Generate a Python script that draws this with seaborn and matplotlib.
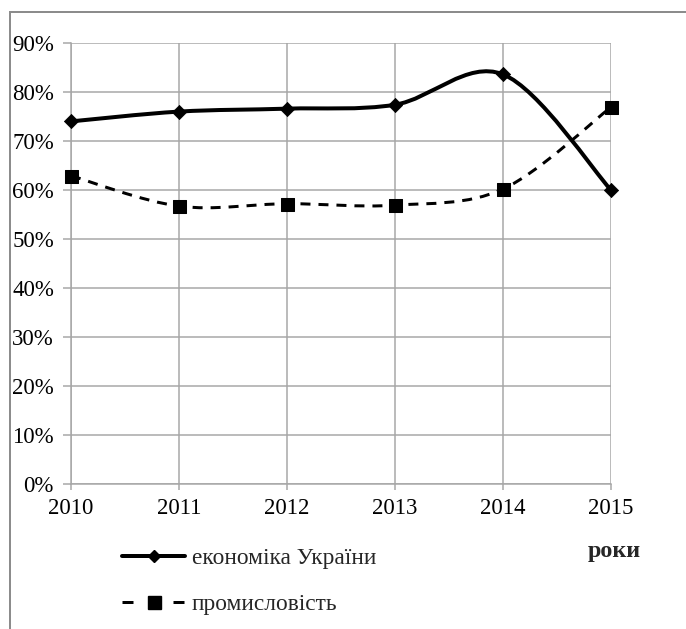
import numpy as np
import pandas as pd
import matplotlib
matplotlib.use("Agg")
import matplotlib.pyplot as plt
from matplotlib.path import Path
from matplotlib.patches import PathPatch, Rectangle
from matplotlib.lines import Line2D
import seaborn as sns

years = [2010, 2011, 2012, 2013, 2014, 2015]
economy = [74.0, 76.0, 76.6, 77.4, 83.6, 60.0]
industry = [62.9, 56.7, 57.2, 56.9, 60.2, 76.9]
series_names = ["економіка України", "промисловість"]
y_ticks = [0, 10, 20, 30, 40, 50, 60, 70, 80, 90]
x_label = "роки"

sns.set_theme(style="white")
plt.rcParams["font.family"] = ["Liberation Serif", "DejaVu Serif"]
plt.rcParams["lines.scale_dashes"] = False

DPI = 100
fig = plt.figure(figsize=(6.86, 6.29), dpi=DPI)
px = 72.0 / DPI  # points per pixel
FS = 16.5

# chart frame (Excel chart border, cropped on right/bottom)
fig.patches.append(Rectangle((10 / 686, -0.1), 1.2, 1 - 12 / 629 + 0.1,
                             transform=fig.transFigure, fill=False,
                             edgecolor="#8c8c8c", linewidth=2 * px))

ax = fig.add_axes([71 / 686, 1 - 484 / 629, (611 - 71) / 686, (484 - 43) / 629])

df = pd.DataFrame({"year": years * 2,
                   "value": economy + industry,
                   "series": [series_names[0]] * 6 + [series_names[1]] * 6})


def smooth_path(xs, ys):
    pts = np.column_stack([xs, ys]).astype(float)
    n = len(pts)
    verts = [pts[0]]
    codes = [Path.MOVETO]
    for i in range(n - 1):
        p0 = pts[i - 1] if i > 0 else pts[i]
        p1 = pts[i]
        p2 = pts[i + 1]
        p3 = pts[i + 2] if i + 2 < n else pts[i + 1]
        c1 = p1 + (p2 - p0) / 6.0
        c2 = p2 - (p3 - p1) / 6.0
        verts += [c1, c2, p2]
        codes += [Path.CURVE4] * 3
    return Path(verts, codes)


ax.add_patch(PathPatch(smooth_path(years, economy), fill=False, edgecolor="black",
                       linewidth=4 * px, zorder=3, capstyle="butt", clip_on=False))
ax.add_patch(PathPatch(smooth_path(years, industry), fill=False, edgecolor="black",
                       linewidth=3 * px, linestyle=(0, (10 * px, 8 * px)), zorder=3,
                       clip_on=False))

sns.scatterplot(data=df[df.series == series_names[0]], x="year", y="value", marker="D",
                s=(10 * px) ** 2, color="black", edgecolor="black", ax=ax, zorder=4,
                legend=False, clip_on=False)
sns.scatterplot(data=df[df.series == series_names[1]], x="year", y="value", marker="s",
                s=(13 * px) ** 2, color="black", edgecolor="black", ax=ax, zorder=4,
                legend=False, clip_on=False)

ax.set_xlim(2010, 2015)
ax.set_ylim(0, 90)
ax.set_xticks(years)
ax.set_xticklabels([str(y) for y in years])
ax.set_yticks(y_ticks)
ax.set_yticklabels([f"{v}%" for v in y_ticks])
ax.set_xlabel("")
ax.set_ylabel("")

gc = "#a6a6a6"
ax.grid(True, color=gc, linewidth=1.5 * px)
ax.set_axisbelow(True)
for side in ["top", "right"]:
    ax.spines[side].set_visible(False)
for side in ["left", "bottom"]:
    ax.spines[side].set_color(gc)
    ax.spines[side].set_linewidth(1.5 * px)
ax.tick_params(axis="both", which="both", colors=gc, labelcolor="black",
               labelsize=FS, width=1.5 * px)
ax.tick_params(axis="y", direction="out", length=8 * px, pad=9 * px, left=True)
ax.tick_params(axis="x", direction="out", length=6 * px, pad=8 * px, bottom=True)

# legend
h1 = Line2D([], [], color="black", linewidth=4 * px, marker="D", markersize=9 * px)
h2 = Line2D([], [], color="black", linewidth=3 * px, marker="s", markersize=13 * px,
            linestyle=(0, (11 * px, 40 * px)))
leg = fig.legend([h1, h2], series_names, loc="upper left",
                 bbox_to_anchor=(113 / 686, 1 - 538 / 629), frameon=False,
                 fontsize=FS + 0.3, handlelength=62 * px / FS, handletextpad=6 * px / FS,
                 labelspacing=25 * px / FS, numpoints=1, borderaxespad=0)

fig.text(588 / 686, 1 - 551 / 629, x_label, fontsize=FS + 0.8, fontweight="bold",
         ha="left", va="center")

fig.savefig("out.png", dpi=DPI)
